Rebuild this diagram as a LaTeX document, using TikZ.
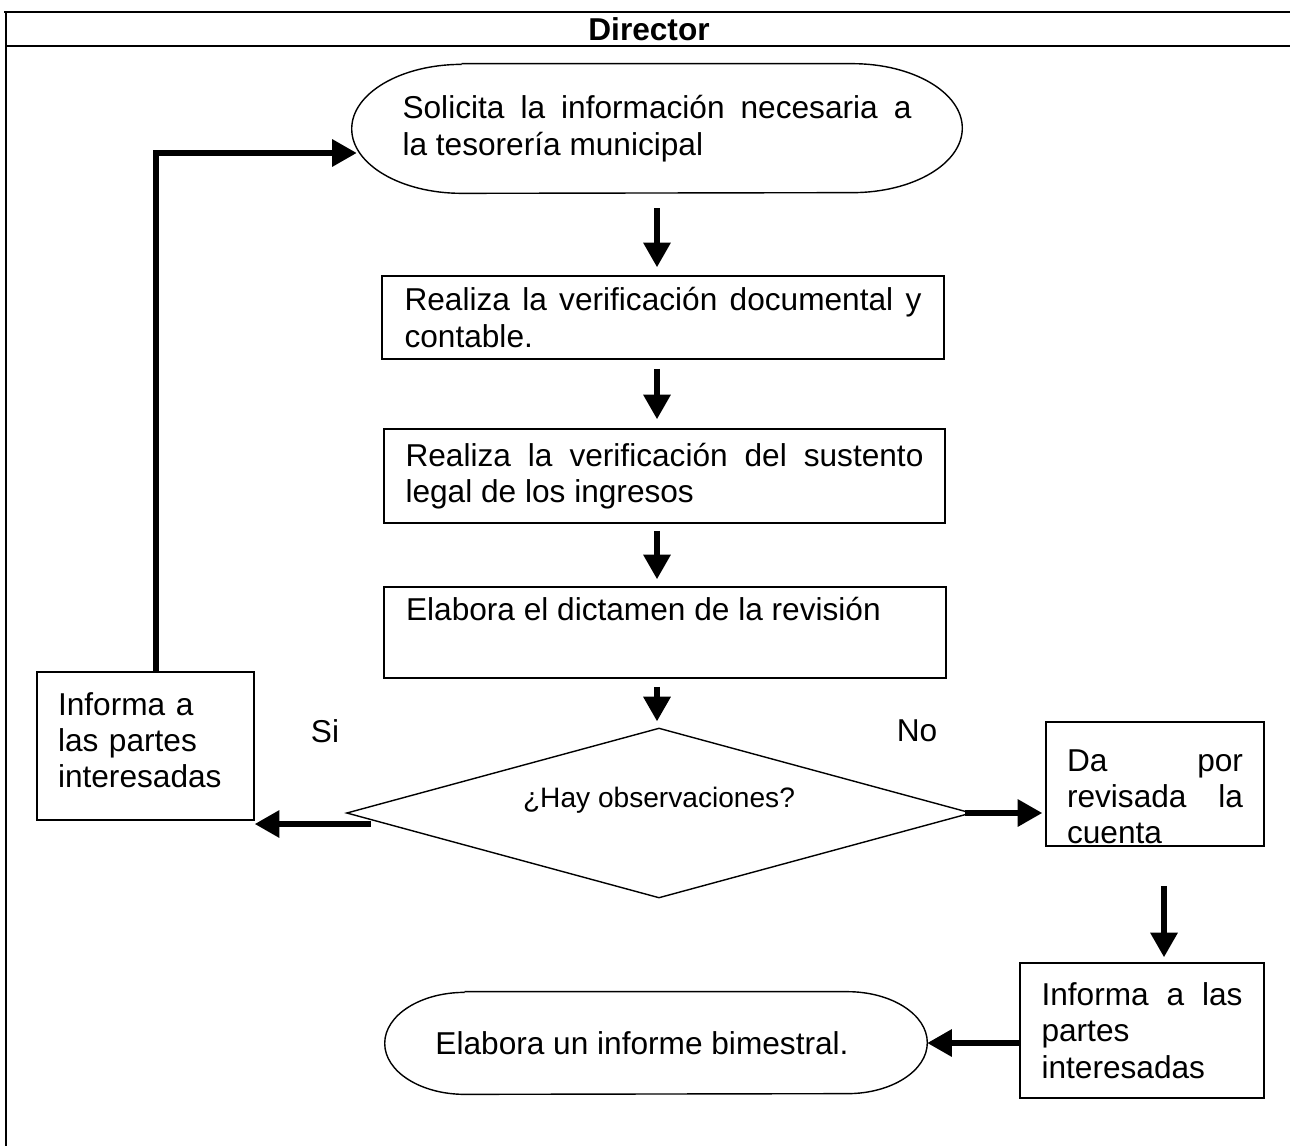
\documentclass[tikz,border=0pt]{standalone}
\usepackage{fontspec}
\setmainfont{Liberation Sans}
\usetikzlibrary{shapes,arrows}
\usetikzlibrary{arrows.meta, positioning}
\usetikzlibrary{calc}
\hyphenpenalty=10000
\exhyphenpenalty=10000

\begin{document}
\begin{tikzpicture}[
			x=0.02cm, y=-0.02cm,
			font=\fontsize{18}{20.7}\selectfont,
			terminal/.style = {
				inner sep=0pt
			},
			borde/.style = {
				line width=0.8pt
			},
			proceso/.style = {
				draw, line width=0.9pt, inner sep=0pt, align=justify
			},
			decision/.style = {
				diamond, draw, line width=0.8pt, aspect=3.7, inner sep=0pt,
				minimum width=12.5cm, minimum height=3.4cm,
				font=\fontsize{16}{18}\selectfont
			},
			flecha/.style = {
				line width=3pt, -{Triangle[length=14pt, width=15pt]}
			}]
			\useasboundingbox (0,0) rectangle (1290,1146);
			% marco de la tabla
			\draw [line width=1.2pt] (4,12) -- (1290,12);
			\draw [line width=1.2pt] (6,46) -- (1290,46);
			\draw [line width=1.2pt] (6,12) -- (6,1146);
			\node (director) at (649,29) {\bfseries Director};
			
			\node (solicita) [terminal, minimum width=12.2cm, minimum height=2.58cm,
			text width=10.18cm, align=justify] at (657,128.5)
			{Solicita la información necesaria a\linebreak la tesorería municipal};
			\node (verifdoc) [proceso, minimum width=11.24cm, minimum height=1.66cm,
			text width=10.34cm] at (663,317.5)
			{Realiza la verificación documental y\linebreak contable.};
			\node (sustento) [proceso, minimum width=11.22cm, minimum height=1.88cm,
			text width=10.36cm] at (664.5,476)
			{Realiza la verificación del sustento\linebreak legal de los ingresos};
			\node (dictamen) [proceso, minimum width=11.24cm, minimum height=1.82cm,
			text width=10.36cm] at (665,632.5)
			{Elabora el dictamen de la revisión\\ \strut};
			\node (dia) [decision] at (659,813)
			{\raisebox{18pt}{¿Hay observaciones?}};
			\node (si) at (325,731) {Si};
			\node (no) at (917,731) {No};
			\node (lbox) [proceso, align=left, minimum width=4.34cm, minimum height=2.96cm,
			text width=3.5cm] at (145.5,746)
			{Informa a\\ las partes\\ interesadas\rule[-0.24cm]{0pt}{0pt}};
			\node (rbox1) [proceso, minimum width=4.36cm, minimum height=2.48cm,
			text width=3.52cm] at (1155,784)
			{\rule{0pt}{0.95cm}Da por\linebreak revisada la\linebreak cuenta};
			\node (rbox2) [proceso, minimum width=4.88cm, minimum height=2.7cm,
			text width=4.02cm] at (1142,1030.5)
			{Informa a las\linebreak partes\\ interesadas};
			\node (bimestral) [terminal, minimum width=10.84cm,
			minimum height=2.04cm] at (656,1043)
			{\hspace*{-0.56cm}Elabora un informe bimestral.};
			
			% bordes de los terminales, extremos elipticos
			\draw [borde] ([xshift=2.2cm]solicita.north west) -- ([xshift=-2.2cm]solicita.north east)
			arc [start angle=90, end angle=-90, x radius=2.2cm, y radius=1.29cm]
			-- ([xshift=2.2cm]solicita.south west)
			arc [start angle=270, end angle=90, x radius=2.2cm, y radius=1.29cm];
			\draw [borde] ([xshift=1.6cm]bimestral.north west) -- ([xshift=-1.6cm]bimestral.north east)
			arc [start angle=90, end angle=-90, x radius=1.6cm, y radius=1.02cm]
			-- ([xshift=1.6cm]bimestral.south west)
			arc [start angle=270, end angle=90, x radius=1.6cm, y radius=1.02cm];
			
			\draw [flecha, shorten <=0.3cm, shorten >=0.16cm]
			(solicita.south) -- (solicita.south |- verifdoc.north);
			\draw [flecha, shorten <=0.18cm, shorten >=0.18cm]
			(solicita.south |- verifdoc.south) -- (solicita.south |- sustento.north);
			\draw [flecha, shorten <=0.14cm, shorten >=0.14cm]
			(solicita.south |- sustento.south) -- (solicita.south |- dictamen.north);
			\draw [flecha, shorten <=0.16cm, shorten >=0.12cm]
			(solicita.south |- dictamen.south) -- (solicita.south |- dia.north);
			\draw [flecha]
			([xshift=0.5cm, yshift=-0.22cm]dia.west) -- ([yshift=-0.22cm]lbox.east |- dia.west);
			\draw [flecha, shorten >=0.06cm]
			([xshift=-0.14cm]dia.east) -- (rbox1.west |- dia.east);
			\draw [flecha, shorten <=0.78cm, shorten >=0.1cm]
			([xshift=0.18cm]rbox1.south) -- ([xshift=0.18cm]rbox1.south |- rbox2.north);
			\draw [flecha]
			(rbox2.west |- bimestral.east) -- (bimestral.east);
			\draw [flecha, shorten >=-0.1cm]
			([xshift=0.21cm]lbox.north) |- ([yshift=-0.49cm]solicita.west);
		\end{tikzpicture}
\end{document}
